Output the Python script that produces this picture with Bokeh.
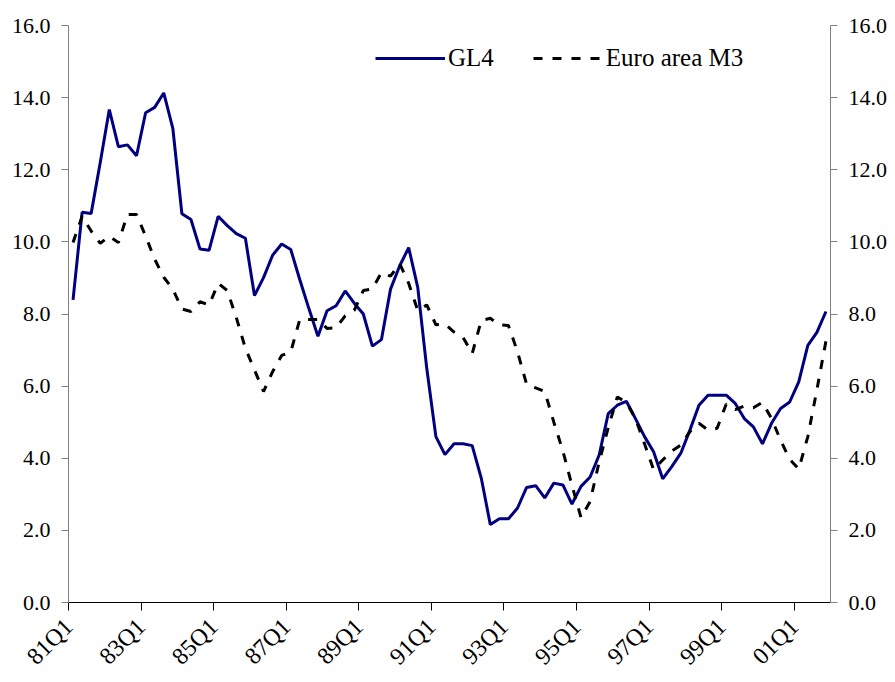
from bokeh.plotting import figure
from bokeh.models import Range1d, FixedTicker, LinearAxis, PrintfTickFormatter, Legend, LegendItem
from bokeh.embed import file_html
from bokeh.resources import INLINE
import math

# ---- data (quarterly, 81Q1 .. 01Q4) ----
quarters = [f"{y % 100:02d}Q{q}" for y in range(1981, 2002) for q in range(1, 5)]

gl4 = [8.39, 10.82, 10.79, 12.2, 13.67, 12.64, 12.69, 12.39, 13.58, 13.73,
       14.13, 13.15, 10.78, 10.62, 9.8, 9.77, 10.71, 10.45, 10.23, 10.1,
       8.51, 9.01, 9.63, 9.94, 9.79, 8.95, 8.15, 7.38, 8.09, 8.23,
       8.64, 8.3, 8.0, 7.11, 7.29, 8.69, 9.33, 9.84, 8.74, 6.48,
       4.6, 4.1, 4.4, 4.4, 4.35, 3.45, 2.16, 2.32, 2.32, 2.62,
       3.19, 3.24, 2.9, 3.31, 3.26, 2.73, 3.22, 3.48, 4.09, 5.24,
       5.47, 5.58, 5.1, 4.6, 4.18, 3.43, 3.77, 4.14, 4.78, 5.47,
       5.75, 5.75, 5.75, 5.52, 5.1, 4.87, 4.4, 4.97, 5.38, 5.56,
       6.12, 7.13, 7.49, 8.07]

m3 = [9.98, 10.71, 10.3, 9.96, 10.16, 9.98, 10.76, 10.76, 10.16, 9.52,
      9.02, 8.69, 8.14, 8.07, 8.34, 8.25, 8.85, 8.65, 7.9, 7.05,
      6.45, 5.85, 6.4, 6.85, 6.95, 7.85, 7.85, 7.85, 7.6, 7.62,
      7.95, 8.1, 8.65, 8.7, 9.15, 9.05, 9.4, 8.85, 8.1, 8.25,
      7.7, 7.72, 7.5, 7.35, 6.9, 7.82, 7.88, 7.7, 7.68, 6.95,
      6.05, 5.95, 5.85, 5.0, 4.2, 3.25, 2.35, 2.8, 3.9, 4.85,
      5.7, 5.55, 5.1, 4.4, 3.68, 3.95, 4.2, 4.37, 4.74, 4.97,
      4.78, 4.83, 5.5, 5.35, 5.45, 5.4, 5.55, 5.1, 4.5, 3.97,
      3.7, 4.6, 5.9, 7.25]

tick_labels = ["81Q1", "83Q1", "85Q1", "87Q1", "89Q1", "91Q1",
               "93Q1", "95Q1", "97Q1", "99Q1", "01Q1"]
y_ticks = [0, 2, 4, 6, 8, 10, 12, 14, 16]

FONT = "Liberation Serif"

n = len(quarters)
xs = [i + 0.5 for i in range(n)]
tick_pos = [quarters.index(t) for t in tick_labels]

p = figure(width=890, height=681, output_backend="svg", toolbar_location=None,
           x_range=Range1d(0, n), y_range=Range1d(0, 16),
           min_border_left=68, min_border_right=58, min_border_top=25, min_border_bottom=76,
           y_axis_location=None, x_axis_location=None)
p.outline_line_color = None
p.xgrid.visible = False
p.ygrid.visible = False
p.background_fill_color = "white"
p.border_fill_color = "white"

# axes
xaxis = LinearAxis(ticker=FixedTicker(ticks=tick_pos),
                   major_label_overrides={pos: lab for pos, lab in zip(tick_pos, tick_labels)},
                   major_label_orientation=math.pi / 4)
xaxis.axis_line_color = "black"
xaxis.major_tick_line_color = "black"
xaxis.major_tick_out = 8
xaxis.major_tick_in = 0
xaxis.minor_tick_out = 0
xaxis.minor_tick_in = 0
xaxis.major_label_standoff = 12
xaxis.major_label_text_font = FONT
xaxis.major_label_text_font_size = "24px"
xaxis.major_label_text_color = "black"
p.add_layout(xaxis, "below")

for side in ("left", "right"):
    ax = LinearAxis(ticker=FixedTicker(ticks=y_ticks),
                    formatter=PrintfTickFormatter(format="%.1f"))
    ax.axis_line_color = "#808080"
    ax.major_tick_line_color = "#808080"
    ax.major_tick_out = 7
    ax.major_tick_in = 0
    ax.minor_tick_out = 0
    ax.minor_tick_in = 0
    ax.major_label_standoff = 11
    ax.major_label_text_font = FONT
    ax.major_label_text_font_size = "22px"
    ax.major_label_text_color = "black"
    p.add_layout(ax, side)

r1 = p.line(xs, gl4, line_color="#000080", line_width=3)
r2 = p.line(xs, m3, line_color="black", line_width=3, line_dash="9 10")

legend = Legend(items=[LegendItem(label="GL4", renderers=[r1]),
                       LegendItem(label="Euro area M3", renderers=[r2])],
                location=(307, 530), orientation="horizontal")
legend.glyph_width = 70
legend.glyph_height = 20
legend.label_standoff = 3
legend.spacing = 39
legend.padding = 0
legend.margin = 0
legend.border_line_alpha = 0
legend.background_fill_alpha = 0
legend.label_text_font = FONT
legend.label_text_font_size = "25px"
legend.label_text_color = "black"
p.add_layout(legend, "center")

open("out.html", "w").write(file_html(p, INLINE))
